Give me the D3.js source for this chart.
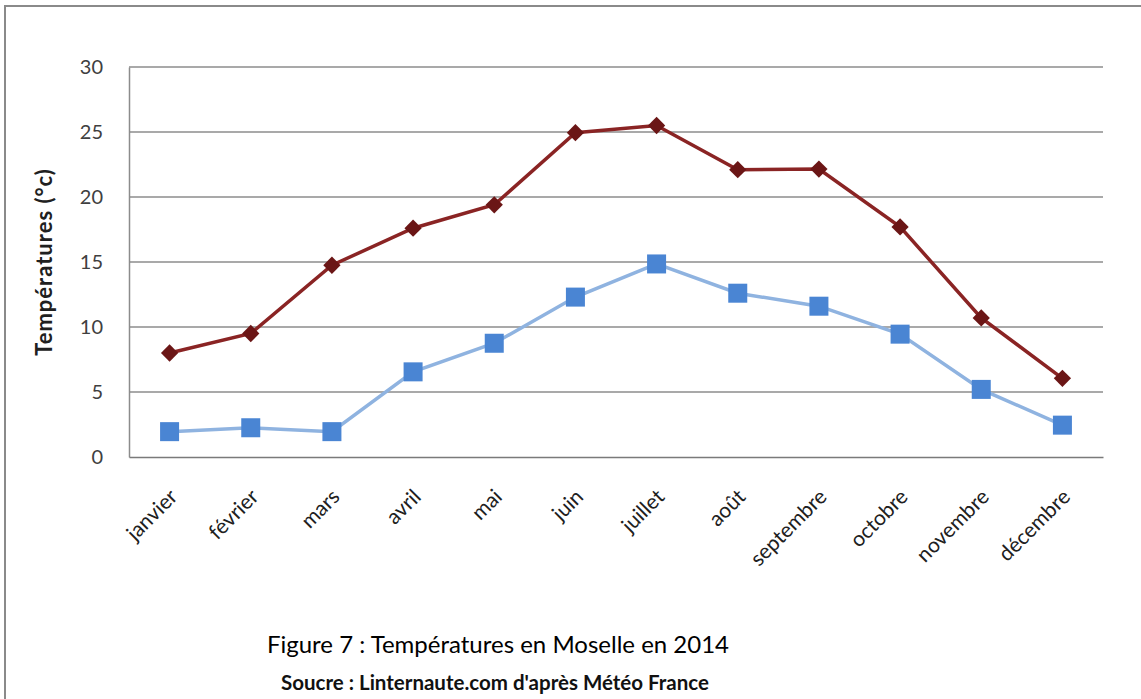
<!DOCTYPE html>
<html>
<head>
<meta charset="utf-8">
<script src="https://cdn.jsdelivr.net/npm/d3@7"></script>
<style>
    body { margin: 0; background: #fff; }
    svg text { font-family: Lato, "Open Sans", sans-serif; }
</style>
</head>
<body>
<div id="chart"></div>
<script>
var months = ["janvier", "février", "mars", "avril", "mai", "juin", "juillet", "août", "septembre", "octobre", "novembre", "décembre"];
var tempMax = [8.0, 9.5, 14.75, 17.6, 19.4, 24.95, 25.5, 22.1, 22.15, 17.7, 10.7, 6.05];
var tempMin = [1.95, 2.25, 1.95, 6.55, 8.75, 12.3, 14.85, 12.6, 11.6, 9.45, 5.2, 2.45];
var yTicks = [0, 5, 10, 15, 20, 25, 30];

var width = 1141, height = 699;
var margin = { top: 67, right: 38, bottom: 242, left: 129 };
var plotW = width - margin.left - margin.right;
var plotH = height - margin.top - margin.bottom;

var svg = d3.select("#chart").append("svg")
    .attr("width", width)
    .attr("height", height);

// outer frame (only top and left edges visible in the picture)
svg.append("rect")
    .attr("x", 5).attr("y", 6)
    .attr("width", width + 10).attr("height", height + 10)
    .attr("fill", "#fff")
    .attr("stroke", "#8a8a8a")
    .attr("stroke-width", 2);

var g = svg.append("g")
    .attr("transform", "translate(" + margin.left + "," + margin.top + ")");

var x = d3.scaleBand().domain(months).range([0, plotW]);
var y = d3.scaleLinear().domain([0, 30]).range([plotH, 0]);

function cx(d, i) { return x(months[i]) + x.bandwidth() / 2; }

// gridlines
g.selectAll("line.grid").data(yTicks.filter(function (t) { return t > 0; }))
    .enter().append("line")
    .attr("class", "grid")
    .attr("x1", 0).attr("x2", plotW)
    .attr("y1", function (d) { return y(d); })
    .attr("y2", function (d) { return y(d); })
    .attr("stroke", "#8c8c8c")
    .attr("stroke-width", 1.5);

// axes
var yAxis = g.append("g").call(d3.axisLeft(y).tickValues(yTicks).tickSize(0).tickPadding(26));
yAxis.select(".domain").attr("stroke", "#8c8c8c").attr("stroke-width", 1.5);
yAxis.selectAll("text").attr("font-size", "20px").attr("fill", "#404040");

var xAxis = g.append("g")
    .attr("transform", "translate(0," + plotH + ")")
    .call(d3.axisBottom(x).tickSize(0).tickFormat(function (d) { return d; }));
xAxis.select(".domain").attr("stroke", "#7a7a7a").attr("stroke-width", 1.5);
xAxis.selectAll("text")
    .attr("font-size", "21px")
    .attr("fill", "#202020")
    .attr("text-anchor", "end")
    .attr("dy", 0)
    .attr("transform", "translate(7,39) rotate(-45)");

// lines
var line = d3.line()
    .x(cx)
    .y(function (d) { return y(d); });

g.append("path").datum(tempMin)
    .attr("d", line)
    .attr("fill", "none")
    .attr("stroke", "#8fb3e0")
    .attr("stroke-width", 3.5);

g.append("path").datum(tempMax)
    .attr("d", line)
    .attr("fill", "none")
    .attr("stroke", "#8a2424")
    .attr("stroke-width", 3.5);

// markers
g.selectAll("rect.min").data(tempMin).enter().append("rect")
    .attr("class", "min")
    .attr("x", function (d, i) { return cx(d, i) - 9.5; })
    .attr("y", function (d) { return y(d) - 9.5; })
    .attr("width", 19).attr("height", 19)
    .attr("fill", "#4a85d3");

var diamond = d3.symbol().type(d3.symbolDiamond2).size(190);
g.selectAll("path.max").data(tempMax).enter().append("path")
    .attr("class", "max")
    .attr("d", diamond)
    .attr("transform", function (d, i) { return "translate(" + cx(d, i) + "," + y(d) + ")"; })
    .attr("fill", "#6b1616");

// axis title
svg.append("text")
    .attr("transform", "translate(52,262) rotate(-90)")
    .attr("text-anchor", "middle")
    .attr("font-size", "22px")
    .attr("font-weight", "bold")
    .attr("letter-spacing", "1px")
    .attr("fill", "#202020")
    .text("Températures (°c)");

// caption
svg.append("text")
    .attr("x", 498).attr("y", 653)
    .attr("text-anchor", "middle")
    .attr("font-size", "24px")
    .attr("fill", "#000")
    .text("Figure 7 : Températures en Moselle en 2014");

svg.append("text")
    .attr("x", 495).attr("y", 690)
    .attr("text-anchor", "middle")
    .attr("font-size", "20.5px")
    .attr("font-weight", "bold")
    .attr("fill", "#111")
    .text("Soucre : Linternaute.com d'après Météo France");
</script>
</body>
</html>
